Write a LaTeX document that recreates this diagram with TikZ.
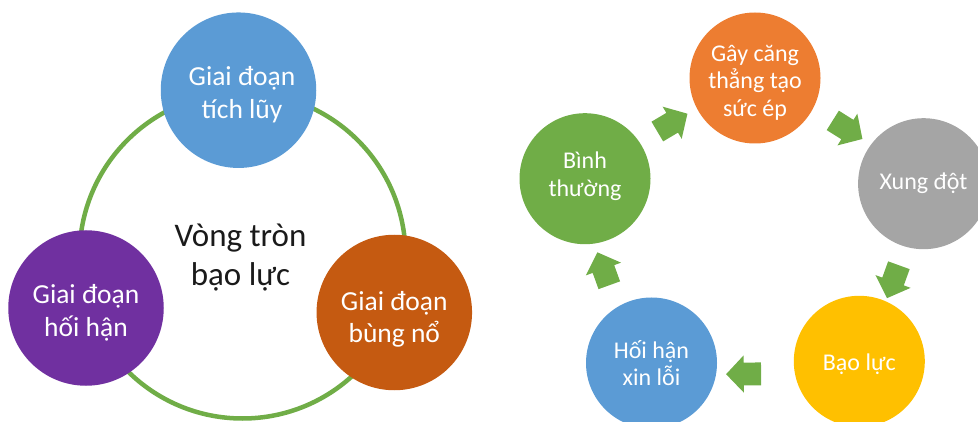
\documentclass[tikz,border=0pt]{standalone}
\usepackage{fontspec}
\setmainfont{Carlito}
\usetikzlibrary{shapes.arrows,calc}

\definecolor{ringgreen}{HTML}{70AD47}
\definecolor{stageblue}{HTML}{5B9BD5}
\definecolor{stagepurple}{HTML}{7030A0}
\definecolor{stagerust}{HTML}{C55A11}
\definecolor{stageorange}{HTML}{ED7D31}
\definecolor{stagegray}{HTML}{A5A5A5}
\definecolor{stageyellow}{HTML}{FFC000}
\definecolor{titleink}{HTML}{1A1A1A}

% struts that fix the height of the first line and the depth of the last one
\newcommand\topst{\rule{0pt}{0.95em}}
\newcommand\botst{\rule[-0.32em]{0pt}{0.32em}}

\begin{document}
\begin{tikzpicture}[x=1pt,y=-1pt,
  bigstage/.style={circle, minimum size=155.5pt, inner sep=0pt, draw=none},
  smallstage/.style={circle, minimum size=131pt, inner sep=0pt, draw=none},
  bigtext/.style={align=center, inner sep=0pt, text=white,
    font=\fontsize{27.5}{32.5}\selectfont},
  smalltext/.style={align=center, inner sep=0pt, text=white,
    font=\fontsize{24}{27.7}\selectfont},
  cyclearrow/.style={single arrow, fill=ringgreen, draw=none,
    minimum height=35pt, inner xsep=0pt, inner ysep=11.25pt,
    single arrow head extend=7.25pt, single arrow tip angle=93,
    midway, sloped, allow upside down}
]
\useasboundingbox (0,0) rectangle (978,422);
\clip (0,0) rectangle (978,422);

% ---- left: the cycle of violence as a ring with three stages ----
\node[circle, draw=ringgreen, line width=4.5pt, minimum size=326pt,
      inner sep=0pt] (ring) at (242.5,255.5) {};
\node[align=center, inner sep=0pt, text=titleink,
      font=\fontsize{33}{39}\selectfont] (ring-t)
      at ($(ring)+(-2,0.3)$) {\topst Vòng tròn\\bạo lực\botst};

\node[bigstage, fill=stageblue] (tichluy) at (238.5,90.2) {};
\node[bigtext] (tichluy-t) at ($(tichluy)+(3.5,3.3)$)
      {\topst Giai đoạn\\tích lũy\botst};

\node[bigstage, fill=stagepurple] (hoihan) at (86,308) {};
\node[bigtext] (hoihan-t) at ($(hoihan)+(0,3.5)$)
      {\topst Giai đoạn\\hối hận\botst};

\node[bigstage, fill=stagerust] (bungno) at (394.3,312.5) {};
\node[bigtext] (bungno-t) at ($(bungno)+(0,5.3)$)
      {\topst Giai đoạn\\bùng nổ\botst};

% ---- right: five steps joined by block arrows ----
\node[smallstage, fill=stageorange] (cangthang) at (755,78) {};
\node[smalltext] (cangthang-t) at ($(cangthang)+(0,3.25)$)
      {\topst Gây căng\\thẳng tạo\\sức ép\botst};

\node[smallstage, fill=stagegray] (xungdot) at (923.6,183.7) {};
\node[smalltext] (xungdot-t) at ($(xungdot)+(0,-1.45)$)
      {\topst Xung đột\botst};

\node[smallstage, fill=stageyellow] (baoluc) at (859.3,361.3) {};
\node[smalltext] (baoluc-t) at ($(baoluc)+(0,1.65)$)
      {\topst Bạo lực\botst};

\node[smallstage, fill=stageblue] (xinloi) at (651.5,363) {};
\node[smalltext] (xinloi-t) at ($(xinloi)+(0,1.4)$)
      {\topst Hối hận\\xin lỗi\botst};

\node[smallstage, fill=ringgreen] (binhthuong) at (585,178.7) {};
\node[smalltext] (binhthuong-t) at ($(binhthuong)+(0,-3.95)$)
      {\topst Bình\\thường\botst};

\path ($(binhthuong)+(-2.3,-2.95)$) -- ($(cangthang)+(-2.3,-2.95)$)
      node[cyclearrow] (arr1) {};
\path ($(cangthang)+(3.7,-4.05)$) -- ($(xungdot)+(3.7,-4.05)$)
      node[cyclearrow] (arr2) {};
\path ($(xungdot)+(3.35,4.1)$) -- ($(baoluc)+(3.35,4.1)$)
      node[cyclearrow] (arr3) {};
\path ($(baoluc)+(-6.4,11.85)$) -- ($(xinloi)+(-6.4,11.85)$)
      node[cyclearrow] (arr4) {};
\path ($(xinloi)+(-13.05,3.05)$) -- ($(binhthuong)+(-13.05,3.05)$)
      node[cyclearrow] (arr5) {};
\end{tikzpicture}
\end{document}
